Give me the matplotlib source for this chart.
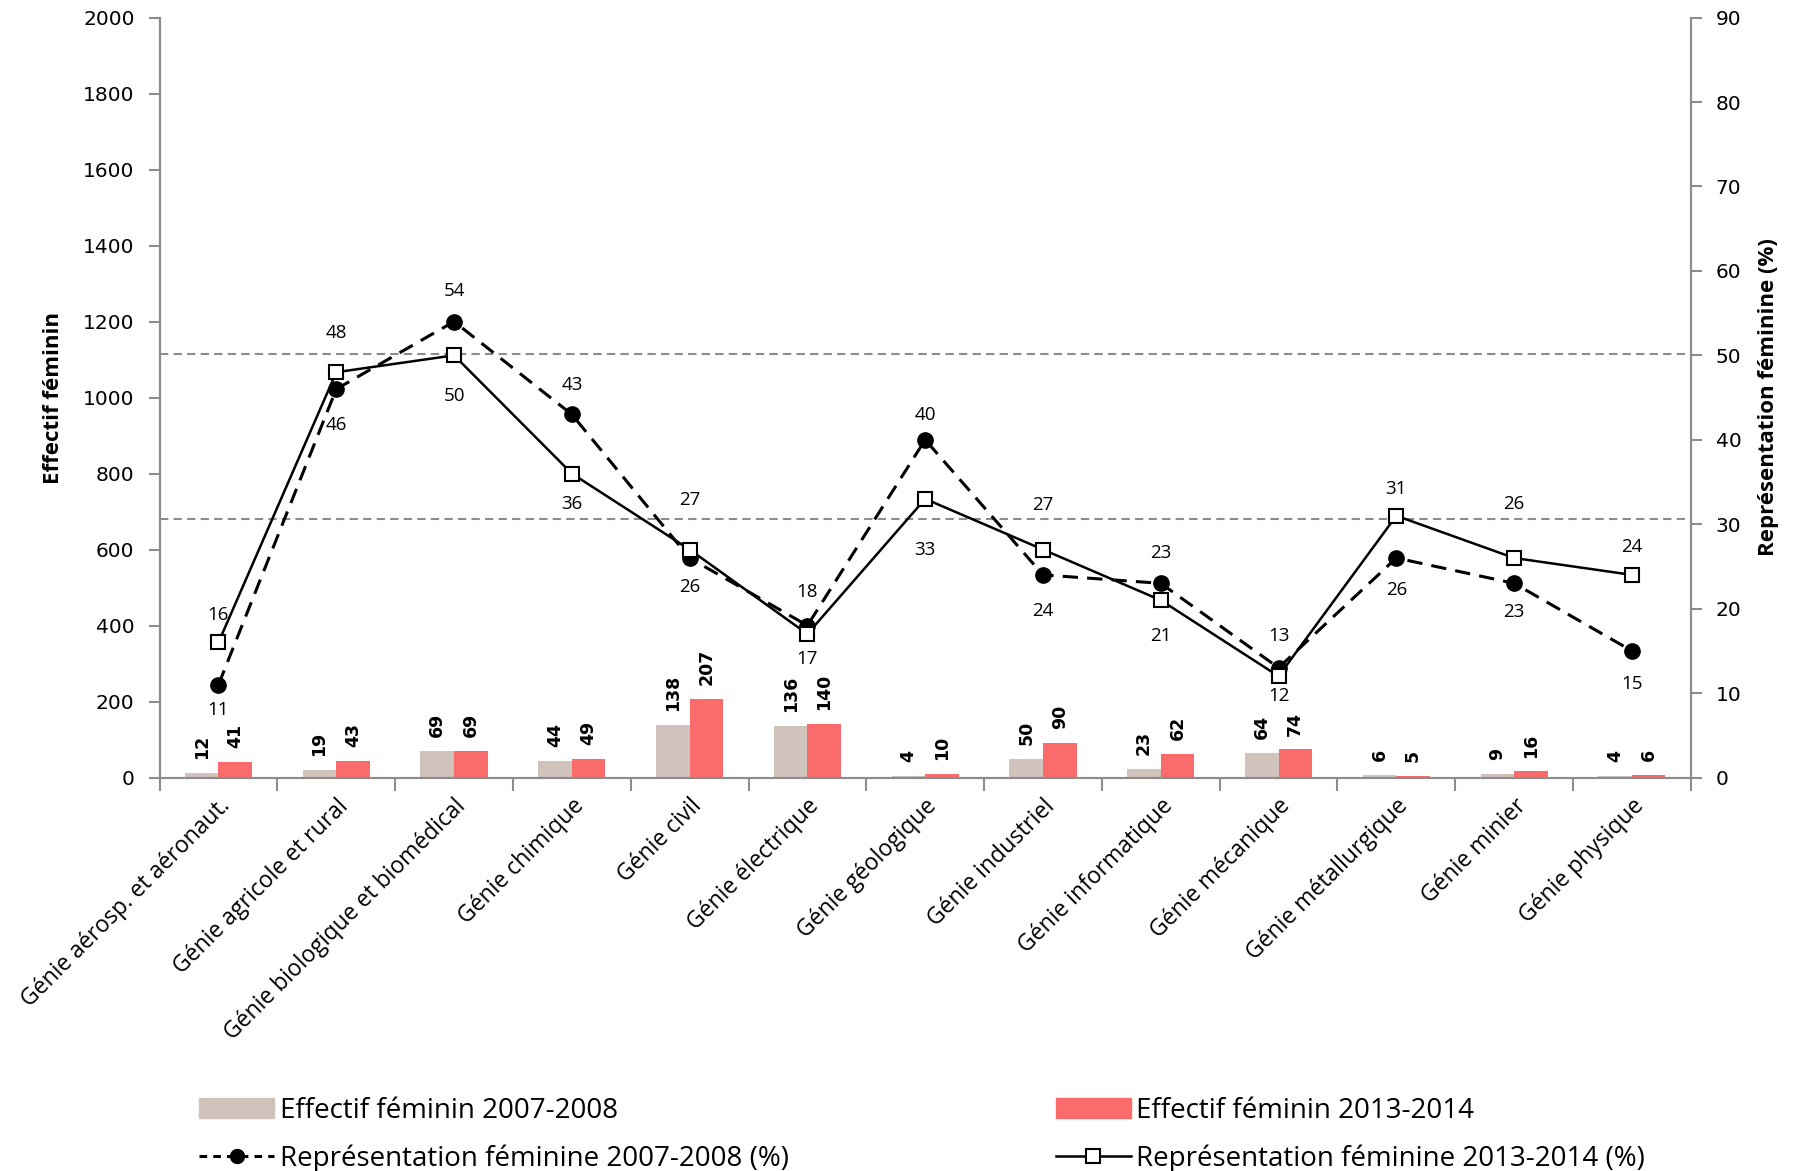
import numpy as np
import matplotlib
matplotlib.use('Agg')
import matplotlib.pyplot as plt
from matplotlib.lines import Line2D
from matplotlib.patches import Patch

# data
categories = ['Génie aérosp. et aéronaut.', 'Génie agricole et rural',
              'Génie biologique et biomédical', 'Génie chimique', 'Génie civil',
              'Génie électrique', 'Génie géologique', 'Génie industriel',
              'Génie informatique', 'Génie mécanique', 'Génie métallurgique',
              'Génie minier', 'Génie physique']
eff_0708 = [12, 19, 69, 44, 138, 136, 4, 50, 23, 64, 6, 9, 4]
eff_1314 = [41, 43, 69, 49, 207, 140, 10, 90, 62, 74, 5, 16, 6]
rep_0708 = [11, 46, 54, 43, 26, 18, 40, 24, 23, 13, 26, 23, 15]
rep_1314 = [16, 48, 50, 36, 27, 17, 33, 27, 21, 12, 31, 26, 24]
ref_lines = [50.2, 30.6]

# label offsets (points, + above / - below), as placed in the original
off_0708 = [-18, -26, 22, 21, -21, 24, 18, -26, 22, 23, -23, -21, -24]
off_1314 = [20, 28, -29, -22, 36, -18, -37, 32, -26, -14, 19, 39, 20]

c_0708 = '#CFC3BB'
c_1314 = '#FA6C6C'
grey = '#8C8C8C'
lab_font = ['Open Sans', 'DejaVu Sans']

fig = plt.figure(figsize=(17.93, 11.71), dpi=100)
ax = fig.add_axes([0.089, 0.336, 0.854, 0.649])
ax2 = ax.twinx()

x = np.arange(len(categories))
w = 0.285
b1 = ax.bar(x - w / 2, eff_0708, w, color=c_0708)
b2 = ax.bar(x + w / 2, eff_1314, w, color=c_1314)
for bars, vals in ((b1, eff_0708), (b2, eff_1314)):
    for r, v in zip(bars, vals):
        ax.annotate(str(v), (r.get_x() + r.get_width() / 2, r.get_height()),
                    xytext=(0, 10), textcoords='offset points', rotation=90,
                    ha='center', va='bottom', fontsize=12.5, fontweight='bold')

ax.set_ylim(0, 2000)
ax.set_yticks(range(0, 2001, 200))
ax.set_xlim(-0.5, len(categories) - 0.5)

for y in ref_lines:
    ax2.axhline(y, color=grey, ls=(0, (4, 2.5)), lw=1.5, zorder=1)

ax2.plot(x, rep_0708, color='black', lw=2.2, ls=(0, (5, 3)), marker='o',
         ms=11, mfc='black', mec='black', zorder=3)
ax2.plot(x, rep_1314, color='black', lw=1.8, ls='-', marker='s',
         ms=10, mfc='white', mec='black', mew=1.5, zorder=4)
for vals, offs in ((rep_0708, off_0708), (rep_1314, off_1314)):
    for xi, v, o in zip(x, vals, offs):
        ax2.annotate(str(v), (xi, v), xytext=(0, o), textcoords='offset points',
                     ha='center', va='center', fontsize=13.5, family=lab_font)
ax2.set_ylim(0, 90)
ax2.set_yticks(range(0, 91, 10))

# x axis: category labels at centres, tick marks at boundaries
ax.set_xticks(x)
ax.set_xticklabels(categories, rotation=45, ha='right', rotation_mode='anchor',
                   fontsize=16.5, family=lab_font)
ax.set_xticks(np.arange(-0.5, len(categories)), minor=True)
ax.tick_params(axis='x', which='major', length=0, pad=12)
ax.tick_params(axis='x', which='minor', length=9, color=grey, width=1.5)
ax.tick_params(axis='y', length=8, color=grey, width=1.5, labelsize=14.5, pad=10)
ax2.tick_params(axis='y', length=8, color=grey, width=1.5, labelsize=14.5, pad=10)

for a in (ax, ax2):
    a.spines['top'].set_visible(False)
    for s in ('left', 'right', 'bottom'):
        a.spines[s].set_color(grey)
        a.spines[s].set_linewidth(1.5)

ax.set_ylabel('Effectif féminin', fontsize=16, fontweight='bold', family=lab_font,
              labelpad=14)
ax2.set_ylabel('Représentation féminine (%)', fontsize=16, fontweight='bold',
               family=lab_font, labelpad=12)

handles = [Patch(color=c_0708),
           Line2D([], [], color='black', lw=2.2, ls=(0, (2.5, 2)), marker='o', ms=10),
           Patch(color=c_1314),
           Line2D([], [], color='black', lw=1.8, marker='s', ms=10, mfc='white', mew=1.5)]
labels = ['Effectif féminin 2007-2008', 'Représentation féminine 2007-2008 (%)',
          'Effectif féminin 2013-2014', 'Représentation féminine 2013-2014 (%)']
fig.legend(handles, labels, ncol=2, loc='upper left',
           bbox_to_anchor=(0.105, 0.073), frameon=False,
           prop={'family': lab_font, 'size': 20}, handlelength=2.7,
           handletextpad=0.2, labelspacing=0.72, columnspacing=9.6,
           borderaxespad=0)

fig.savefig('out.png', dpi=100)
